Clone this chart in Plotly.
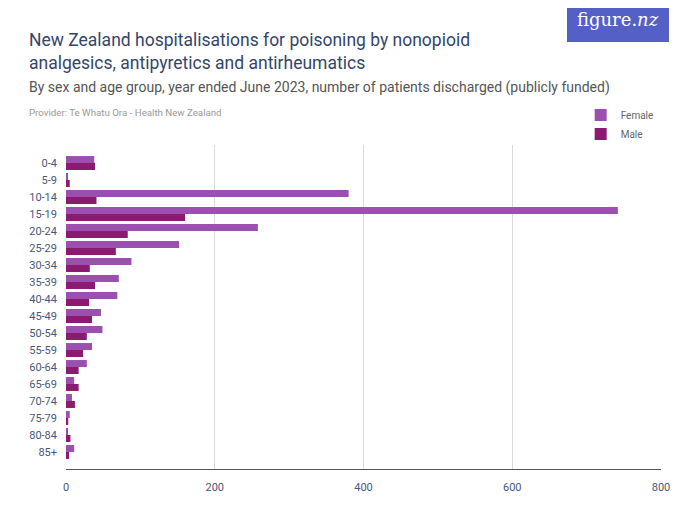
import plotly.graph_objects as go

age_groups = ["0-4", "5-9", "10-14", "15-19", "20-24", "25-29", "30-34", "35-39",
              "40-44", "45-49", "50-54", "55-59", "60-64", "65-69", "70-74",
              "75-79", "80-84", "85+"]
female = [38, 2, 380, 742, 258, 152, 88, 71, 69, 47, 49, 35, 28, 11, 8, 5, 2, 11]
male = [39, 5, 41, 160, 83, 67, 32, 39, 31, 35, 28, 23, 17, 17, 12, 3, 6, 4]
x_ticks = [0, 200, 400, 600, 800]

fig = go.Figure()
fig.add_trace(go.Bar(y=age_groups, x=female, name="Female", orientation="h",
                     marker=dict(color="#9b4fae", line=dict(width=0))))
fig.add_trace(go.Bar(y=age_groups, x=male, name="Male", orientation="h",
                     marker=dict(color="#8b1a70", line=dict(width=0))))

font_main = "Roboto, Arial, sans-serif"

fig.update_layout(
    width=700, height=525,
    margin=dict(l=58, r=47, t=137, b=64),
    paper_bgcolor="white", plot_bgcolor="white",
    barmode="group", bargap=0.18, bargroupgap=0,
    font=dict(family=font_main, color="#4a5878", size=11),
    showlegend=True,
    legend=dict(x=0.865, y=1.137, xanchor="left", yanchor="top",
                font=dict(size=10, color="#666"), itemwidth=30,
                bgcolor="rgba(0,0,0,0)", traceorder="normal", tracegroupgap=0),
    xaxis=dict(range=[0, 800], tickvals=x_ticks, showgrid=True, gridcolor="#d9d9d9",
               gridwidth=1, zeroline=False, showline=True, linecolor="#555",
               linewidth=1, ticks="", ticklabelstandoff=8,
               tickfont=dict(size=11, color="#4a5878")),
    yaxis=dict(range=[18.0, -1.06], autorange=False, showgrid=False, zeroline=False,
               showline=False, ticks="", ticklabelstandoff=8,
               tickfont=dict(size=11, color="#4a5878")),
)

left_x = (19 - 58) / 595
fig.add_annotation(text="New Zealand hospitalisations for poisoning by nonopioid<br>analgesics, antipyretics and antirheumatics",
                   xref="paper", yref="paper", x=left_x, y=1.290, xanchor="left", yanchor="middle",
                   showarrow=False, align="left",
                   font=dict(family=font_main, size=17.5, color="#34456a"))
fig.add_annotation(text="By sex and age group, year ended June 2023, number of patients discharged (publicly funded)",
                   xref="paper", yref="paper", x=left_x, y=1.179, xanchor="left", yanchor="middle",
                   showarrow=False, align="left",
                   font=dict(family=font_main, size=14, color="#555"))
fig.add_annotation(text="Provider: Te Whatu Ora - Health New Zealand",
                   xref="paper", yref="paper", x=left_x, y=1.099, xanchor="left", yanchor="middle",
                   showarrow=False, align="left",
                   font=dict(family=font_main, size=9.7, color="#999"))

fig.add_shape(type="rect", xref="paper", yref="paper",
              x0=0.842, x1=1.0134, y0=1.318, y1=1.45,
              fillcolor="#5460c6", line=dict(width=0), layer="above")
fig.add_annotation(text="figure.<i>nz</i>", xref="paper", yref="paper",
                   x=0.928, y=1.386, xanchor="center", yanchor="middle",
                   showarrow=False,
                   font=dict(family="DejaVu Serif, Liberation Serif, serif", size=18, color="white"))

fig.write_html("out.html")
